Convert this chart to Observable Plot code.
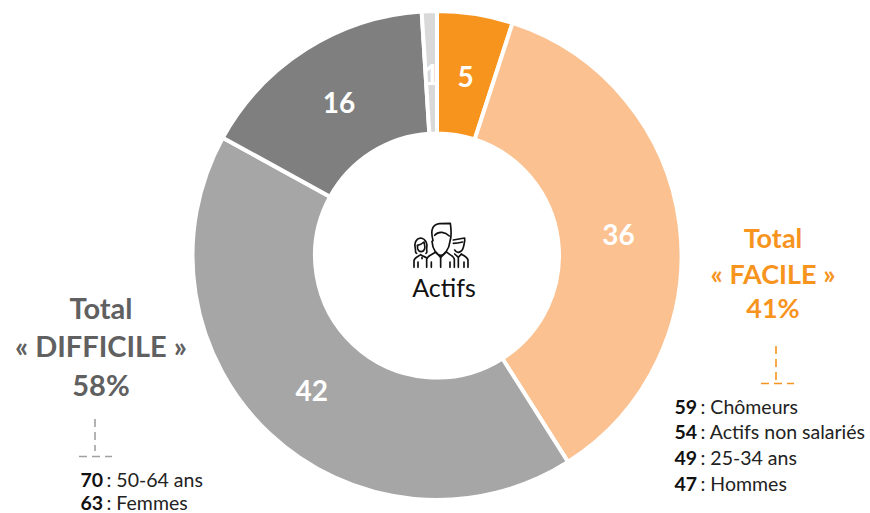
<!DOCTYPE html>
<html><head><meta charset="utf-8">
<script src="https://cdn.jsdelivr.net/npm/d3@7"></script>
<script src="https://cdn.jsdelivr.net/npm/@observablehq/plot@0.6"></script>
<style>html,body{margin:0;padding:0;background:#fff}svg{display:block}</style>
</head><body><div id="chart"></div>
<script>
const categories = ["Très facile","Assez facile","Assez difficile","Très difficile","NSP"];
const values = [5,36,42,16,1];
const sliceColors = ["#F7941E","#FBC190","#A6A6A6","#7F7F7F","#D9D9D9"];
const easyScores = ["59","54","49","47"];
const easyGroups = ["Chômeurs","Actifs non salariés","25-34 ans","Hommes"];
const hardScores = ["70","63"];
const hardGroups = ["50-64 ans","Femmes"];

const W = 870, H = 513, CX = 437, CY = 255.5, R = 244.5, r0 = 122;
const ORANGE = "#F7941E", GREY = "#606060";
const table = categories.map((c,i)=>({category:c,value:values[i]}));

function label(t,x,y,o={}){
  return Plot.text([t],{frameAnchor:"top-left",dx:x,dy:y,textAnchor:"middle",lineAnchor:"middle",...o});
}
function renderDonut(index,scales,v){
  const g = d3.create("svg:g");
  const arc = d3.arc().innerRadius(r0).outerRadius(R);
  const rad = d=>d*Math.PI/180;
  for(const i of index){
    const a0=rad(v.x1[i]), a1=rad(v.x2[i]);
    g.append("path").attr("transform",`translate(${CX},${CY})`)
      .attr("d",arc({startAngle:a0,endAngle:a1}))
      .attr("fill",v.fill[i]).attr("stroke","#fff").attr("stroke-width",4).attr("stroke-linejoin","miter");
  }
  for(const i of index){
    const a=(rad(v.x1[i])+rad(v.x2[i]))/2, lr=183;
    g.append("text").attr("x",CX+lr*Math.sin(a)).attr("y",CY-lr*Math.cos(a)+2.5).attr("dy","0.35em")
      .attr("text-anchor","middle").attr("fill","#fff").attr("font-weight",700).attr("font-size",28)
      .text(table[i].value);
  }
  return g.node();
}
function decor(){
  const g = d3.create("svg:g").attr("fill","none");
  const dash=(x1,y1,x2,y2,c,d)=>g.append("line").attr("x1",x1).attr("y1",y1).attr("x2",x2).attr("y2",y2)
    .attr("stroke",c).attr("stroke-width",1.6).attr("stroke-dasharray",d);
  dash(776,346,776,381,ORANGE,"8 5");
  dash(761,383.5,794,383.5,ORANGE,"8 5");
  dash(95,419,95,451,"#A0A0A0","8 5");
  dash(79,456.5,112,456.5,"#A0A0A0","8 5");
  const ic = g.append("g").attr("transform","translate(390,200) scale(0.3333)")
    .attr("stroke","#111").attr("stroke-width",5).attr("stroke-linecap","round").attr("stroke-linejoin","round");
  [
   "M129,122 C122,95 124,74 148,71 L181,70 C184,90 185,108 180,124 C177,150 162,166 152,166 C141,166 128,150 126,124",
   "M134,106 C146,92 166,96 178,108",
   "M110,202 V178 C111,168 126,164 137,156 L152,172 L169,156 C178,164 192,168 193,178 V202",
   "M152,172 V202 M124,186 V202 M180,186 V202",
   "M92,114 C76,116 72,132 76,146 C78,154 74,158 80,160 M92,114 C108,116 114,134 110,146 C110,154 113,158 108,160",
   "M82,136 C92,134 98,130 102,126 C104,136 106,140 104,146 C100,158 86,158 83,146 Z",
   "M72,202 V182 C73,172 84,170 92,164 C100,170 106,170 110,174 M84,186 V202 M96,172 L96,176",
   "M190,120 L224,114 C226,124 222,134 220,142 C216,158 200,162 194,150",
   "M190,130 C200,130 210,128 218,126",
   "M194,162 L205,172 L214,162 C222,168 232,170 234,180 V202 M205,172 V202 M222,186 V202"
  ].forEach(d=>ic.append("path").attr("d",d));
  return g.node();
}
const fs = 19.5;
const rowsEasy = easyScores.flatMap((s,i)=>{const y=[407,432.5,458,484][i];return [
  label(s,674,y,{textAnchor:"start",fontWeight:700,fontSize:fs,fill:"#111"}),
  label(": "+easyGroups[i],700,y,{textAnchor:"start",fontSize:fs,fill:"#222"})];});
const rowsHard = hardScores.flatMap((s,i)=>{const y=[480,503][i];return [
  label(s,80,y,{textAnchor:"start",fontWeight:700,fontSize:fs,fill:"#111"}),
  label(": "+hardGroups[i],106,y,{textAnchor:"start",fontSize:fs,fill:"#222"})];});

const chart = Plot.plot({
  width:W,height:H,margin:0,
  style:{fontFamily:"Lato, 'Open Sans', sans-serif",background:"#fff",overflow:"visible"},
  x:{domain:[0,100],range:[0,360],axis:null},
  color:{domain:categories,range:sliceColors},
  marks:[
    Plot.barX(table,Plot.stackX({x:"value",fill:"category",order:null,render:renderDonut})),
    decor,
    label("Actifs",443.5,288,{fontSize:25,fill:"#111"}),
    label("Total",772.5,239,{fontSize:27,fontWeight:700,fill:ORANGE}),
    label("« FACILE »",772.5,274.5,{fontSize:27,fontWeight:700,fill:ORANGE}),
    label("41%",772.5,309,{fontSize:27,fontWeight:700,fill:ORANGE}),
    label("Total",100.5,309,{fontSize:29,fontWeight:700,fill:GREY}),
    label("« DIFFICILE »",100.5,347,{fontSize:29,fontWeight:700,fill:GREY}),
    label("58%",100.5,386,{fontSize:29,fontWeight:700,fill:GREY}),
    ...rowsEasy,...rowsHard
  ]
});
document.getElementById("chart").append(chart);
</script></body></html>
